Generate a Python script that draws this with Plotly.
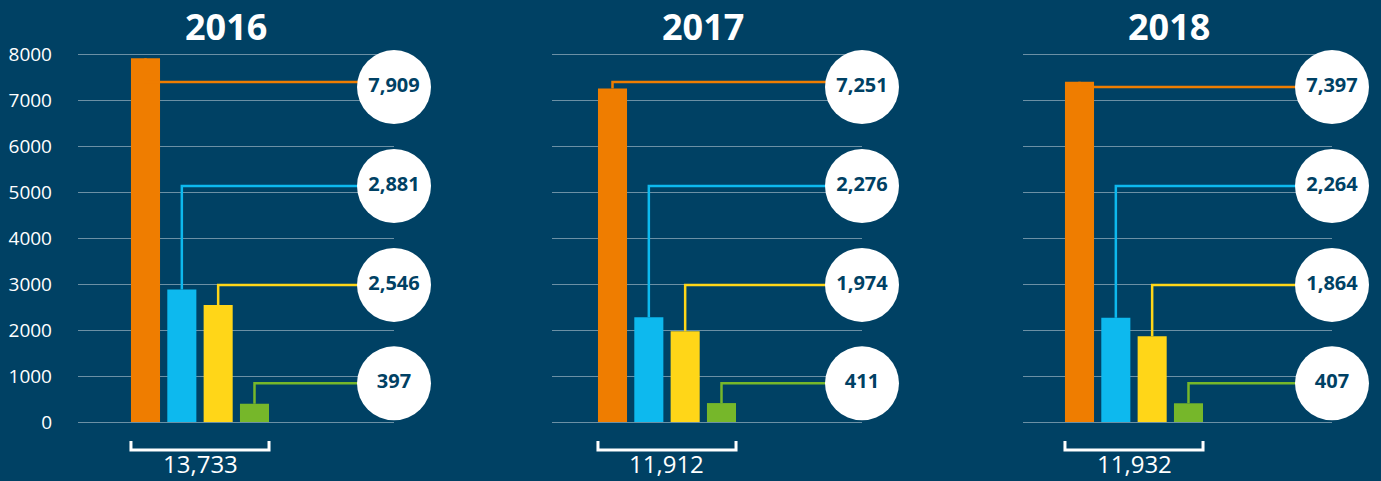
import plotly.graph_objects as go

# ---------------- data ----------------
years = ["2016", "2017", "2018"]
categories = ["Category A", "Category B", "Category C", "Category D"]
values_2016 = [7909, 2881, 2546, 397]
values_2017 = [7251, 2276, 1974, 411]
values_2018 = [7397, 2264, 1864, 407]
y_tick_values = [0, 1000, 2000, 3000, 4000, 5000, 6000, 7000, 8000]
y_tick_labels = ["0", "1000", "2000", "3000", "4000", "5000", "6000", "7000", "8000"]

all_values = [values_2016, values_2017, values_2018]

# ---------------- style / layout ----------------
W, H = 1381, 481
BG = "#004164"
BAR_COLORS = ["#EF7D00", "#0DB9EE", "#FFD618", "#76B72A"]
GRID = "rgba(255,255,255,0.42)"
FONT = "Open Sans"

Y0_PX = 422            # pixel row of value 0
PX_PER_UNIT = 46 / 1000
y_range = [(Y0_PX - H) / PX_PER_UNIT, Y0_PX / PX_PER_UNIT]

panel_left = [78, 552, 1023]
panel_right = [394, 862, 1332]
first_bar_center = [145.5, 612.5, 1079.5]
bar_step = 36.33
title_center_px = [226, 703, 1169]

circle_levels = [7280, 5130, 2980, 840]
orange_line_level = [7390, 7390, 7280]

fig = go.Figure()

for p, (year, vals) in enumerate(zip(years, all_values)):
    xa = "x" if p == 0 else f"x{p+1}"
    ya = "y" if p == 0 else f"y{p+1}"
    c0 = first_bar_center[p]
    xr = [(panel_left[p] - c0) / bar_step, (panel_right[p] - c0) / bar_step]
    circle_x = xr[1]
    xs = list(range(len(categories)))

    fig.add_trace(go.Bar(
        x=xs, y=vals, width=0.8, marker=dict(color=BAR_COLORS, line=dict(width=0)),
        xaxis=xa, yaxis=ya, showlegend=False, hoverinfo="skip",
        customdata=categories,
    ))

    # connectors
    for i, v in enumerate(vals):
        lvl = orange_line_level[p] if i == 0 else circle_levels[i]
        fig.add_trace(go.Scatter(
            x=[i, i, circle_x], y=[v, lvl, lvl], mode="lines",
            line=dict(color=BAR_COLORS[i], width=2.5),
            xaxis=xa, yaxis=ya, showlegend=False, hoverinfo="skip",
        ))

    # circles with values
    fig.add_trace(go.Scatter(
        x=[circle_x] * len(vals), y=circle_levels, mode="markers+text",
        marker=dict(size=74, color="white", line=dict(width=0)),
        text=[f"{v:,}" for v in vals], textposition="middle center",
        textfont=dict(family=FONT, size=20, color=BG, weight=700),
        cliponaxis=False, xaxis=xa, yaxis=ya, showlegend=False, hoverinfo="skip",
    ))

    # bracket and total
    total = sum(vals)
    bx0, bx1 = -0.4, len(vals) - 1 + 0.4
    ytop, ybot = (Y0_PX - 441) / PX_PER_UNIT, (Y0_PX - 450) / PX_PER_UNIT
    fig.add_shape(type="path",
                  path=f"M {bx0},{ytop} L {bx0},{ybot} L {bx1},{ybot} L {bx1},{ytop}",
                  xref=xa, yref=ya, line=dict(color="white", width=3))
    fig.add_annotation(x=(len(vals) - 1) / 2, y=0, xref=xa, yref="paper",
                       text=f"{total:,}", showarrow=False, borderpad=0,
                       xanchor="center", yanchor="bottom",
                       font=dict(family=FONT, size=24, color="white"))

    # title
    fig.add_annotation(x=title_center_px[p] / W, y=1 - 26 / H, xref="paper", yref="paper",
                       text=f"<b>{year}</b>", showarrow=False,
                       xanchor="center", yanchor="middle",
                       font=dict(family=FONT, size=36, color="white"))

    axis_x = dict(domain=[panel_left[p] / W, panel_right[p] / W], range=xr,
                  showgrid=False, zeroline=False, showticklabels=False, ticks="",
                  fixedrange=True)
    axis_y = dict(domain=[0, 1], range=y_range, tickvals=y_tick_values,
                  ticktext=y_tick_labels, showgrid=True, gridcolor=GRID, gridwidth=1,
                  zeroline=False, ticks="", showticklabels=(p == 0),
                  tickfont=dict(family=FONT, size=19, color="white"),
                  ticklabelstandoff=25, anchor=xa, fixedrange=True)
    if p == 0:
        fig.update_layout(xaxis=dict(axis_x, anchor="y"), yaxis=axis_y)
    else:
        fig.update_layout(**{f"xaxis{p+1}": dict(axis_x, anchor=ya),
                             f"yaxis{p+1}": axis_y})

fig.update_layout(
    width=W, height=H, margin=dict(l=0, r=0, t=0, b=0),
    paper_bgcolor=BG, plot_bgcolor=BG, bargap=0.2,
    font=dict(family=FONT, color="white"),
)

fig.write_html(
    "out.html",
    config={"displayModeBar": False},
    post_script="document.body.style.margin='0';document.body.style.overflow='hidden';",
)
